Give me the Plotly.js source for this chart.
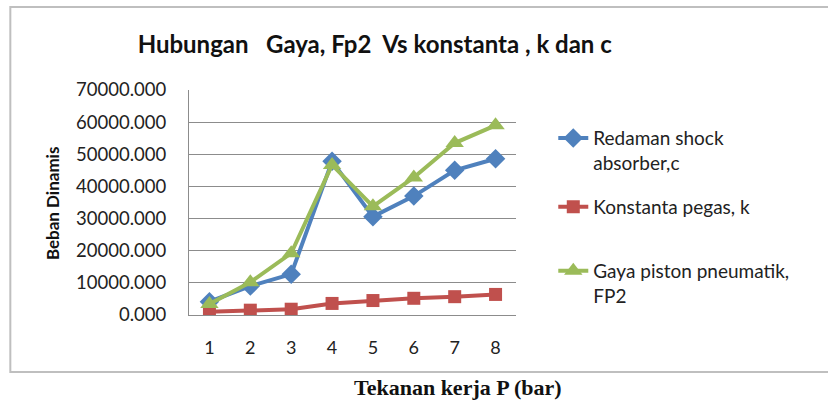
<!DOCTYPE html>
<html>
<head>
<meta charset="utf-8">
<script src="https://cdn.plot.ly/plotly-3.0.1.min.js"></script>
<style>html,body{margin:0;padding:0;background:#fff;}#chart{width:828px;height:402px;}</style>
</head>
<body>
<div id="chart"></div>
<script>
const categories = ['1','2','3','4','5','6','7','8'];
const redamanC = [4150, 9000, 12700, 47800, 30600, 37000, 45000, 48600];
const konstantaK = [1000, 1500, 1800, 3600, 4500, 5200, 5700, 6400];
const gayaFP2 = [3400, 10200, 19200, 46700, 33800, 42800, 53500, 59000];
const seriesNames = ['Redaman shock<br>absorber,c', 'Konstanta pegas, k', 'Gaya piston pneumatik,<br>FP2'];
const yTicks = [0, 10000, 20000, 30000, 40000, 50000, 60000, 70000];

const F = 'Lato, "Open Sans", sans-serif';
const traces = [
  {x: categories, y: redamanC, name: seriesNames[0], mode: 'lines+markers', legend: 'legend',
   line: {color: '#4F81BD', width: 4}, marker: {symbol: 'diamond', size: 15, color: '#4F81BD'}},
  {x: categories, y: konstantaK, name: seriesNames[1], mode: 'lines+markers', legend: 'legend2',
   line: {color: '#C0504D', width: 4}, marker: {symbol: 'square', size: 13, color: '#C0504D'}},
  {x: categories, y: gayaFP2, name: seriesNames[2], mode: 'lines+markers', legend: 'legend3',
   line: {color: '#9BBB59', width: 4}, marker: {symbol: 'triangle-up', size: 16, color: '#9BBB59'}}
];
const legBase = {x: 1.114, xanchor: 'left', yanchor: 'middle', bgcolor: 'rgba(0,0,0,0)',
  font: {family: F, size: 19, color: '#222'}, valign: 'top'};
const layout = {
  width: 828, height: 402,
  margin: {l: 188.5, r: 311.5, t: 90, b: 87},
  paper_bgcolor: '#fff', plot_bgcolor: '#fff',
  showlegend: true,
  title: {text: '<b>Hubungan   Gaya, Fp2  Vs konstanta , k dan c</b>', font: {family: F, size: 24, color: '#111'},
          xref: 'paper', x: 0.568, xanchor: 'center', yref: 'container', y: 0.89, yanchor: 'middle'},
  xaxis: {type: 'category', range: [-0.5, 7.5], showgrid: false, zeroline: false,
          showline: true, linecolor: '#8c8c8c', linewidth: 1,
          ticks: 'outside', ticklen: 16, tickcolor: 'rgba(0,0,0,0)',
          tickfont: {family: F, size: 18, color: '#222'}},
  yaxis: {range: [0, 70000], tickvals: yTicks, tickformat: '.3f', showgrid: true, gridcolor: '#8c8c8c', gridwidth: 1,
          zeroline: false, showline: true, linecolor: '#8c8c8c', linewidth: 1,
          ticks: 'outside', ticklen: 18, tickcolor: 'rgba(0,0,0,0)',
          tickfont: {family: F, size: 18.5, color: '#222'}},
  legend: Object.assign({}, legBase, {y: 0.731}),
  legend2: Object.assign({}, legBase, {y: 0.48}),
  legend3: Object.assign({}, legBase, {y: 0.14}),
  shapes: [{type: 'rect', xref: 'paper', yref: 'paper', x0: -0.5464, x1: 1.96, y0: -0.2533, y1: 1.369,
            line: {color: '#bfbfbf', width: 2}, fillcolor: 'rgba(0,0,0,0)'}],
  annotations: [
    {text: '<b>Beban Dinamis</b>', xref: 'paper', yref: 'paper', x: -0.4155, y: 0.498, textangle: -90,
     showarrow: false, xanchor: 'center', yanchor: 'middle', font: {family: F, size: 17, color: '#111'}},
    {text: '<b>Tekanan kerja P (bar)</b>', xref: 'paper', yref: 'paper', x: 0.823, y: -0.32,
     showarrow: false, xanchor: 'center', yanchor: 'middle', font: {family: '"Liberation Serif", "DejaVu Serif", serif', size: 22, color: '#111'}}
  ]
};
Plotly.newPlot('chart', traces, layout, {displayModeBar: false, staticPlot: true});
</script>
</body>
</html>
